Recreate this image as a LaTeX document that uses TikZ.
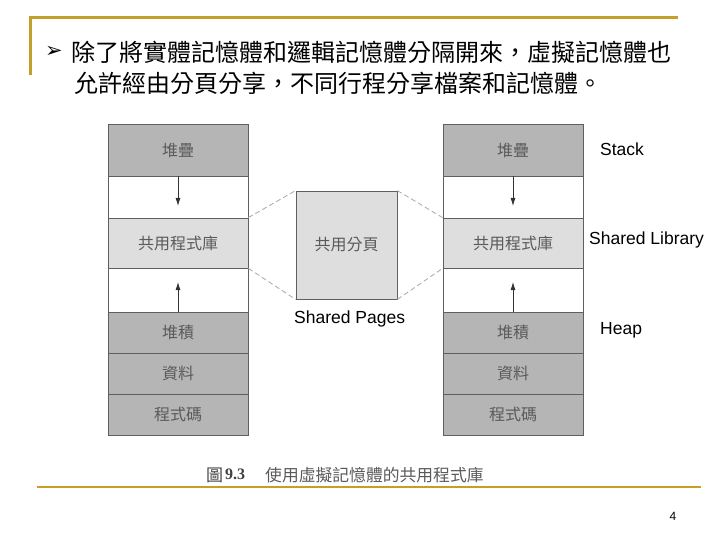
\documentclass[tikz,border=0pt]{standalone}
\usepackage{fontspec}
\setmainfont{Liberation Sans}
\newfontfamily\cjk{Noto Sans CJK TC}
\newfontfamily\dejavu{DejaVu Sans}
\newfontfamily\serifb{Liberation Serif}
\usetikzlibrary{arrows.meta}
\definecolor{gold}{RGB}{196,160,40}
\definecolor{darkfill}{RGB}{181,181,181}
\definecolor{lightfill}{RGB}{222,222,222}
\definecolor{boxline}{RGB}{95,95,95}
\definecolor{txtgray}{RGB}{90,90,90}
\definecolor{dashgray}{RGB}{175,175,175}
\tikzset{
  seg/.style={draw=boxline, line width=0.8pt, minimum width=140pt, inner sep=0pt,
    font=\cjk\fontsize{16}{16}\selectfont, text=txtgray},
  darkseg/.style={seg, fill=darkfill},
  lightseg/.style={seg, fill=lightfill},
  whiteseg/.style={seg, fill=white},
  arr/.style={draw=black!80, line width=0.8pt, -{Latex[length=8pt,width=5pt]}},
  dashlink/.style={draw=dashgray, line width=0.9pt, dash pattern=on 5pt off 3pt},
  goldline/.style={draw=gold, line width=3pt},
  lab/.style={font=\fontsize{17.5}{17.5}\selectfont, text=black, inner sep=0pt},
  titletxt/.style={font=\cjk\fontsize{24}{24}\selectfont, inner sep=0pt, anchor=west}
}
\begin{document}
\begin{tikzpicture}[x=1pt,y=-1pt]
\useasboundingbox (0,0) rectangle (720,540);
% frame lines
\coordinate (g1) at (30,18);
\coordinate (g2) at (678,18);
\coordinate (g3) at (30,75);
\draw[goldline] (g3) -- (g1) -- (g2);
\coordinate (b1) at (37,487);
\coordinate (b2) at (701,487);
\draw[goldline, line width=2.5pt] (b1) -- (b2);
% title
\node[inner sep=0pt, font=\dejavu\bfseries\fontsize{21}{21}\selectfont] (bullet) at (54,52) {➢};
\node[titletxt] (t1) at (71,52) {除了將實體記憶體和邏輯記憶體分隔開來，虛擬記憶體也};
\node[titletxt] (t2) at (74,83) {允許經由分頁分享，不同行程分享檔案和記憶體。};
% columns
\foreach \c/\x in {L/178, R/513}{
  \node[darkseg, minimum height=52pt] (\c-stack) at (\x,150) {堆疊};
  \node[whiteseg, minimum height=42pt] (\c-gap1) at (\x,197) {};
  \node[lightseg, minimum height=50pt] (\c-lib) at (\x,243) {共用程式庫};
  \node[whiteseg, minimum height=44pt] (\c-gap2) at (\x,290) {};
  \node[darkseg, minimum height=41pt] (\c-heap) at (\x,332.5) {堆積};
  \node[darkseg, minimum height=41pt] (\c-data) at (\x,373.5) {資料};
  \node[darkseg, minimum height=41pt] (\c-code) at (\x,414.5) {程式碼};
  \coordinate (\c-a1) at (\x,206);
  \coordinate (\c-a2) at (\x,282);
  \draw[arr] (\c-stack.south) -- (\c-a1);
  \draw[arr] (\c-heap.north) -- (\c-a2);
}
% shared pages
\node[seg, fill=lightfill, minimum width=101pt, minimum height=108pt] (pages) at (346.5,245) {共用分頁};
\draw[dashlink] (L-lib.north east) -- (pages.north west);
\draw[dashlink] (L-lib.south east) -- (pages.south west);
\draw[dashlink] (pages.north east) -- (R-lib.north west);
\draw[dashlink] (pages.south east) -- (R-lib.south west);
% labels
\node[lab, anchor=west] (stackl) at (600,149) {Stack};
\node[lab, anchor=west] (libl) at (589,240) {Shared Library};
\node[lab, anchor=west] (heapl) at (600,330) {Heap};
\node[lab, anchor=west] (pagesl) at (294,319) {Shared Pages};
% caption
\node[inner sep=0pt, anchor=west, font=\cjk\fontsize{17}{17}\selectfont, text=black!75] (fig) at (206,475) {圖};
\node[inner sep=0pt, anchor=west, font=\serifb\bfseries\fontsize{16}{16}\selectfont, text=black!75] (fignum) at (225,474) {9.3};
\node[inner sep=0pt, anchor=west, font=\cjk\fontsize{16.8}{16.8}\selectfont, text=txtgray] (cap) at (265,475) {使用虛擬記憶體的共用程式庫};
% page number
\node[inner sep=0pt, font=\fontsize{12}{12}\selectfont] (pnum) at (673,516) {4};
\end{tikzpicture}
\end{document}
